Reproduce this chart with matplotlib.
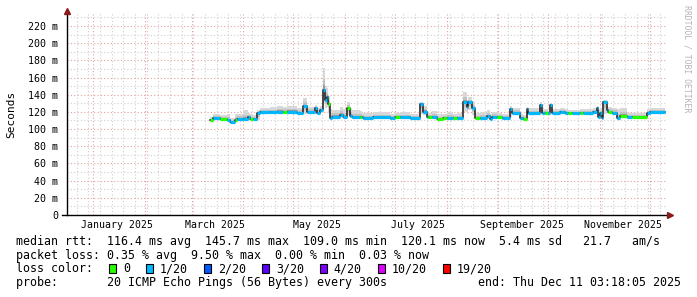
import numpy as np
import pandas as pd
import matplotlib
matplotlib.use('Agg')
import matplotlib.pyplot as plt
import matplotlib.dates as mdates
from matplotlib.ticker import MultipleLocator, FuncFormatter
from matplotlib.patches import Rectangle

# step start dates, median rtt (ms), smoke range (ms), lost pings out of 20
dates = ['2025-03-12', '2025-03-14', '2025-03-18', '2025-03-22', '2025-03-24', '2025-03-27',
         '2025-03-28', '2025-04-01', '2025-04-04', '2025-04-05', '2025-04-07', '2025-04-09',
         '2025-04-11', '2025-04-17', '2025-04-21', '2025-04-25', '2025-04-27', '2025-05-03',
         '2025-05-07', '2025-05-09', '2025-05-14', '2025-05-15', '2025-05-17', '2025-05-19',
         '2025-05-20', '2025-05-21', '2025-05-22', '2025-05-23', '2025-05-24', '2025-05-29',
         '2025-05-31', '2025-06-02', '2025-06-04', '2025-06-05', '2025-06-10', '2025-06-11',
         '2025-06-12', '2025-06-18', '2025-06-28', '2025-07-01', '2025-07-04', '2025-07-10',
         '2025-07-16', '2025-07-18', '2025-07-20', '2025-07-21', '2025-07-23', '2025-07-26',
         '2025-07-30', '2025-08-01', '2025-08-05', '2025-08-07', '2025-08-11', '2025-08-13',
         '2025-08-14', '2025-08-16', '2025-08-18', '2025-08-21', '2025-08-25', '2025-08-27',
         '2025-08-28', '2025-08-31', '2025-09-03', '2025-09-08', '2025-09-09', '2025-09-14',
         '2025-09-16', '2025-09-18', '2025-09-19', '2025-09-26', '2025-09-27', '2025-09-29',
         '2025-10-01', '2025-10-02', '2025-10-03', '2025-10-08', '2025-10-11', '2025-10-13',
         '2025-10-15', '2025-10-20', '2025-10-22', '2025-10-28', '2025-10-30', '2025-10-31',
         '2025-11-01', '2025-11-02', '2025-11-03', '2025-11-05', '2025-11-06', '2025-11-08',
         '2025-11-11', '2025-11-13', '2025-11-17', '2025-11-20', '2025-11-29', '2025-12-01',
         '2025-12-10']
median_ms = [110.6, 112.5, 111.5, 110.5, 108.6, 110.0, 112.0, 111.5, 113.5, 112.0, 112.0, 118.4,
             119.5, 119.5, 120.3, 120.3, 120.3, 118.4, 126.5, 120.3, 124.0, 119.0, 122.0, 145.7,
             134.0, 137.0, 129.0, 112.5, 114.5, 116.4, 114.5, 124.2, 115.0, 113.7, 113.7, 113.7,
             112.5, 113.7, 112.5, 114.5, 113.7, 112.5, 128.8, 120.3, 113.7, 113.7, 113.7, 111.4,
             112.5, 112.5, 112.5, 112.5, 131.9, 126.0, 131.0, 124.0, 112.5, 112.5, 115.0, 111.5,
             114.5, 113.5, 112.5, 123.0, 118.4, 112.5, 111.4, 123.0, 119.1, 128.0, 118.4, 118.4,
             118.4, 128.0, 119.0, 120.0, 118.4, 118.4, 118.4, 118.4, 119.1, 120.0, 124.0, 114.5,
             118.4, 112.5, 131.9, 122.0, 120.0, 119.0, 112.5, 115.0, 113.7, 114.5, 119.0, 119.5,
             120.1]
smoke_hi = [114, 117, 116, 117, 113, 117, 118, 122, 119, 117, 116, 122,
            125, 126, 127, 126, 127, 125, 136, 126, 128, 125, 127, 171,
            150, 148, 138, 123, 122, 126, 123, 132, 125, 122, 121, 120,
            119, 120, 118, 119, 120, 118, 131, 127, 121, 119, 121, 117,
            118, 120, 118, 119, 143.5, 134, 137, 131, 119, 120, 122, 118,
            120, 119, 118, 127, 125, 118, 116, 126, 124, 131, 123, 123,
            122, 130, 123, 124, 123, 122, 122, 123, 123, 125, 127, 123,
            124, 119, 134, 127, 126, 125, 123, 125, 119, 119, 123, 124,
            124]
smoke_lo = [109, 110.5, 110, 109, 107.5, 108.5, 110.5, 110, 111, 110.5, 110.5, 110,
            118, 118, 118.5, 118.5, 118.5, 117, 118, 118.5, 118, 117.5, 119, 130,
            124, 126, 120, 111, 112.5, 114, 112.5, 116, 113, 112, 112, 112,
            111, 112, 111, 112.5, 112, 111, 118, 116, 112, 112, 112, 110,
            111, 111, 111, 111, 120, 118, 122, 116, 111, 111, 112, 110,
            112.5, 112, 111, 114, 116.5, 111, 110, 113, 117.5, 119, 117, 117,
            117, 119, 117.5, 118.5, 117, 117, 117, 117, 117.5, 118.5, 118, 112.5,
            116, 111, 117, 119, 118.5, 117.5, 111, 113, 112, 112.5, 117.5, 118,
            118]
loss = [0, 1, 0, 1, 1, 0, 1, 1, 1, 0, 1, 1,
        1, 1, 1, 0, 1, 1, 1, 1, 1, 1, 1, 1,
        1, 1, 0, 1, 1, 1, 1, 0, 1, 1, 0, 1,
        1, 1, 1, 0, 1, 1, 1, 1, 1, 0, 1, 0,
        0, 1, 0, 1, 1, 1, 1, 1, 0, 1, 1, 1,
        1, 0, 1, 1, 1, 1, 0, 1, 1, 1, 1, 0,
        1, 1, 1, 1, 1, 0, 1, 0, 1, 1, 1, 1,
        1, 1, 1, 1, 0, 1, 1, 0, 1, 0, 1, 1,
        1]

end_time = pd.Timestamp('2025-12-11 03:18:05')
start_time = end_time - pd.Timedelta(days=360)

month_label_dates = ['2025-01-15', '2025-03-15', '2025-05-15', '2025-07-15', '2025-09-15', '2025-11-15']
month_labels = ['January 2025', 'March 2025', 'May 2025', 'July 2025', 'September 2025', 'November 2025']

loss_names = ['0', '1/20', '2/20', '3/20', '4/20', '10/20', '19/20']
loss_colors = ['#26ff00', '#00b8ff', '#0059ff', '#5e00ff', '#7e00ff', '#dd00ff', '#ff0000']

legend_lines = [
    'median rtt:  116.4 ms avg  145.7 ms max  109.0 ms min  120.1 ms now  5.4 ms sd   21.7   am/s',
    'packet loss: 0.35 % avg  9.50 % max  0.00 % min  0.03 % now',
    'loss color:',
    'probe:       20 ICMP Echo Pings (56 Bytes) every 300s',
]
end_text = 'end: Thu Dec 11 03:18:05 2025'

MONO = 'DejaVu Sans Mono'
W, H = 697, 297

def fx(x):
    return x / W

def fy(y):
    return 1 - y / H

fig = plt.figure(figsize=(W / 100, H / 100), dpi=100, facecolor='white')
ax = fig.add_axes([fx(67), fy(215), 600 / W, 201.9 / H])
ax.set_facecolor('white')

x = mdates.date2num(pd.to_datetime(dates))
med = np.array(median_ms)
hi = np.array(smoke_hi, dtype=float)
lo = np.array(smoke_lo, dtype=float)

# smoke: light outer band, darker core near the median
ax.fill_between(x, lo, hi, step='post', color='#d8d8d8', lw=0, zorder=2)
ax.fill_between(x, lo + 0.5 * (med - lo), med + 0.5 * (hi - med), step='post', color='#c2c2c2', lw=0, zorder=2)
ax.fill_between(x, med, med + 0.2 * (hi - med), step='post', color='#9a9a9a', lw=0, zorder=2)

# median line, risers dark, segments coloured by loss
ax.step(x, med, where='post', color='#1a1a1a', lw=1.1, zorder=3)
seg_colors = [loss_colors[l] for l in loss[:-1]]
ax.hlines(med[:-1], x[:-1], x[1:], colors=seg_colors, lw=2.3, zorder=4)

ax.set_xlim(mdates.date2num(start_time), mdates.date2num(end_time))
ax.set_ylim(0, 235)

# grid
ax.xaxis.set_major_locator(mdates.MonthLocator())
ax.xaxis.set_minor_locator(mdates.WeekdayLocator(byweekday=mdates.SU))
ax.yaxis.set_major_locator(MultipleLocator(20))
ax.yaxis.set_minor_locator(MultipleLocator(10))
ax.grid(which='minor', color='#cfcfcf', ls=(0, (1, 2)), lw=0.8)
ax.grid(which='major', color='#e4a0a0', ls=(0, (1, 2)), lw=0.8)
ax.set_axisbelow(True)

ax.yaxis.set_major_formatter(FuncFormatter(lambda v, p: '0' if v == 0 else '%d m' % v))
ax.tick_params(axis='y', which='both', length=0, pad=6.5, labelsize=7.2)
ax.tick_params(axis='x', which='both', length=0, labelbottom=False)
for lab in ax.get_yticklabels():
    lab.set_family(MONO)

for sp in ax.spines.values():
    sp.set_visible(False)

# axes with arrowheads
ax.plot([0, 0], [0, 1.012], transform=ax.transAxes, clip_on=False, color='black', lw=1, zorder=5)
ax.plot([-0.008, 1.003], [0, 0], transform=ax.transAxes, clip_on=False, color='black', lw=1, zorder=5)
ax.plot(0, 1.012, marker='^', ms=4.5, color='#8b1a1a', transform=ax.transAxes, clip_on=False, zorder=6)
ax.plot(1.005, 0, marker='>', ms=4.5, color='#8b1a1a', transform=ax.transAxes, clip_on=False, zorder=6)

trans = ax.get_xaxis_transform()
for d, lab in zip(month_label_dates, month_labels):
    ax.text(mdates.date2num(pd.Timestamp(d)), -0.05, lab, transform=trans, ha='center', va='center',
            family=MONO, size=7.1)

fig.text(fx(11), fy(114), 'Seconds', rotation=90, ha='center', va='center', family=MONO, size=8)
fig.text(fx(687), fy(5), 'RRDTOOL / TOBI OETIKER', rotation=270, ha='center', va='top',
         family=MONO, size=5.9, color='#b4b4b4')

# legend block
line_y = [241.7, 255.2, 268.8, 282.3]
for yy, s in zip(line_y, legend_lines):
    fig.text(fx(16), fy(yy), s, ha='left', va='center', family=MONO, size=8.4)
fig.text(fx(681), fy(line_y[3]), end_text, ha='right', va='center', family=MONO, size=8.4)

cw = 7.02
bx = 108.7
for name, col in zip(loss_names, loss_colors):
    fig.add_artist(Rectangle((fx(bx), fy(line_y[2] + 4.5)), 7 / W, 9 / H, transform=fig.transFigure,
                             facecolor=col, edgecolor='black', lw=0.8))
    tx = bx + 14.3
    fig.text(fx(tx), fy(line_y[2]), name, ha='left', va='center', family=MONO, size=8.4)
    bx = tx + len(name) * cw + 15.6

fig.savefig('out.png', dpi=100)
